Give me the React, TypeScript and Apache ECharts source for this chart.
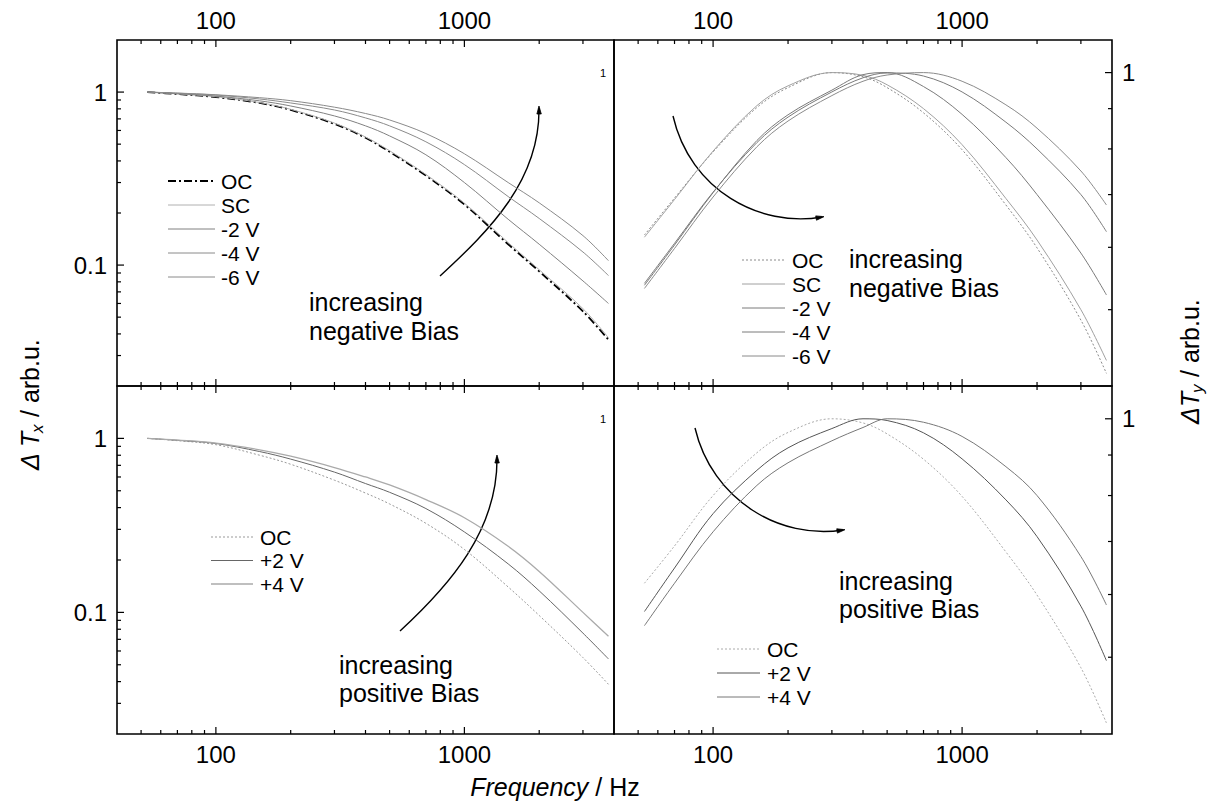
import React, { useEffect, useRef } from "react";
import * as echarts from "echarts";

const FONT = '"Liberation Sans", Arial, Helvetica, sans-serif';

// Sampling frequencies (Hz)
const FREQ = [53, 70, 100, 150, 200, 300, 400, 500, 700, 1000, 1500, 2000, 3000, 3800];

// ΔTx, negative bias
const TX_NEG_OC = [1.0, 0.974, 0.936, 0.865, 0.788, 0.655, 0.544, 0.452, 0.329, 0.224, 0.132, 0.092, 0.054, 0.037];
const TX_NEG_SC = [1.0, 0.976, 0.94, 0.87, 0.795, 0.662, 0.55, 0.458, 0.334, 0.228, 0.135, 0.094, 0.056, 0.038];
const TX_NEG_2V = [1.0, 0.978, 0.948, 0.89, 0.831, 0.728, 0.638, 0.558, 0.434, 0.3, 0.184, 0.132, 0.081, 0.06];
const TX_NEG_4V = [1.0, 0.985, 0.961, 0.912, 0.865, 0.788, 0.709, 0.638, 0.516, 0.381, 0.249, 0.186, 0.119, 0.087];
const TX_NEG_6V = [1.0, 0.987, 0.965, 0.928, 0.892, 0.818, 0.752, 0.69, 0.576, 0.44, 0.3, 0.229, 0.148, 0.106];

// ΔTy, negative bias
const TY_NEG_OC = [0.622, 0.693, 0.793, 0.903, 0.957, 1.0, 0.988, 0.957, 0.889, 0.798, 0.679, 0.599, 0.485, 0.415];
const TY_NEG_SC = [0.618, 0.69, 0.795, 0.908, 0.962, 1.0, 0.992, 0.965, 0.9, 0.81, 0.692, 0.613, 0.5, 0.431];
const TY_NEG_2V = [0.537, 0.604, 0.704, 0.82, 0.884, 0.95, 0.994, 1.0, 0.96, 0.885, 0.78, 0.7, 0.59, 0.522];
const TY_NEG_4V = [0.54, 0.607, 0.705, 0.815, 0.878, 0.945, 0.985, 0.999, 0.99, 0.945, 0.865, 0.8, 0.7, 0.628];
const TY_NEG_6V = [0.532, 0.598, 0.695, 0.805, 0.868, 0.935, 0.975, 0.993, 1.0, 0.975, 0.91, 0.85, 0.75, 0.679];

// ΔTx, positive bias
const TX_POS_OC = [1.0, 0.97, 0.92, 0.8, 0.71, 0.575, 0.485, 0.42, 0.325, 0.23, 0.14, 0.096, 0.055, 0.0386];
const TX_POS_2V = [1.0, 0.975, 0.935, 0.84, 0.76, 0.64, 0.55, 0.49, 0.395, 0.29, 0.19, 0.133, 0.076, 0.054];
const TX_POS_4V = [1.0, 0.978, 0.94, 0.86, 0.79, 0.68, 0.6, 0.54, 0.445, 0.35, 0.24, 0.172, 0.1, 0.073];

// ΔTy, positive bias
const TY_POS_OC = [0.62, 0.691, 0.8, 0.906, 0.961, 1.0, 0.988, 0.957, 0.889, 0.798, 0.679, 0.599, 0.485, 0.413];
const TY_POS_2V = [0.571, 0.648, 0.759, 0.861, 0.919, 0.972, 1.0, 0.995, 0.96, 0.89, 0.79, 0.71, 0.58, 0.495];
const TY_POS_4V = [0.548, 0.62, 0.72, 0.824, 0.88, 0.938, 0.975, 1.0, 0.99, 0.95, 0.87, 0.8, 0.67, 0.582];

// Axis ranges and tick values
const X_RANGE = [40, 4000];
const TX_RANGE = [0.02, 2];
const TY_RANGE = [0.4, 1.1];
const X_MAJOR = [100, 1000];
const X_MINOR = [50, 60, 70, 80, 90, 200, 300, 400, 500, 600, 700, 800, 900, 2000, 3000];
const TX_MAJOR = [0.1, 1];
const TX_MINOR = [0.03, 0.04, 0.05, 0.06, 0.07, 0.08, 0.09, 0.2, 0.3, 0.4, 0.5, 0.6, 0.7, 0.8, 0.9];
const TY_MAJOR = [1];
const TY_MINOR = [0.5, 0.6, 0.7, 0.8, 0.9];

const NEG_LEGEND = ["OC", "SC", "-2 V", "-4 V", "-6 V"];
const POS_LEGEND = ["OC", "+2 V", "+4 V"];

const GRIDS = [
  { left: 117, top: 40, width: 497, height: 346 },
  { left: 614, top: 40, width: 498, height: 346 },
  { left: 117, top: 386, width: 497, height: 348 },
  { left: 614, top: 386, width: 498, height: 348 },
];

type LS = { color: string; width: number; type: any };
const STYLE_TL: LS[] = [
  { color: "#000", width: 1.8, type: [8, 3, 2, 3] },
  { color: "#b0b0b0", width: 1, type: "solid" },
  { color: "#808080", width: 1, type: "solid" },
  { color: "#8a8a8a", width: 1, type: "solid" },
  { color: "#8a8a8a", width: 1, type: "solid" },
];
const STYLE_TR: LS[] = [
  { color: "#8a8a8a", width: 1, type: [2, 2] },
  { color: "#a0a0a0", width: 1, type: "solid" },
  { color: "#7a7a7a", width: 1, type: "solid" },
  { color: "#7a7a7a", width: 1, type: "solid" },
  { color: "#8a8a8a", width: 1, type: "solid" },
];
const STYLE_BL: LS[] = [
  { color: "#999", width: 1, type: [2, 2] },
  { color: "#666", width: 1, type: "solid" },
  { color: "#aaa", width: 1.3, type: "solid" },
];
const STYLE_BR: LS[] = [
  { color: "#aaa", width: 1, type: [2, 2] },
  { color: "#555", width: 1, type: "solid" },
  { color: "#777", width: 1, type: "solid" },
];

const decadeLabel = (v: number) => {
  const l = Math.log10(v);
  return Math.abs(l - Math.round(l)) < 1e-6 ? String(Number(v.toPrecision(6))) : "";
};

const lineSeries = (name: string, axis: number, yAxis: number, vals: number[], s: LS) => ({
  type: "line",
  name,
  xAxisIndex: axis,
  yAxisIndex: yAxis,
  data: FREQ.map((f, i) => [f, vals[i]]),
  showSymbol: false,
  smooth: 0.35,
  silent: true,
  lineStyle: { color: s.color, width: s.width, type: s.type },
});

const xAxis = (gridIndex: number, position: string) => ({
  type: "log",
  gridIndex,
  position,
  min: X_RANGE[0],
  max: X_RANGE[1],
  axisLine: { show: false },
  axisTick: { show: false },
  splitLine: { show: false },
  axisLabel: { formatter: decadeLabel, fontSize: 24, fontFamily: FONT, color: "#000", margin: 8 },
});

const yAxis = (gridIndex: number, position: string, range: number[], fontSize: number, margin: number) => ({
  type: "log",
  gridIndex,
  position,
  min: range[0],
  max: range[1],
  axisLine: { show: false },
  axisTick: { show: false },
  splitLine: { show: false },
  axisLabel: { formatter: decadeLabel, fontSize, fontFamily: FONT, color: "#000", margin },
});

function buildOption() {
  const series: any[] = [];
  [TX_NEG_OC, TX_NEG_SC, TX_NEG_2V, TX_NEG_4V, TX_NEG_6V].forEach((v, i) =>
    series.push(lineSeries("ΔTx " + NEG_LEGEND[i], 0, 0, v, STYLE_TL[i]))
  );
  [TY_NEG_OC, TY_NEG_SC, TY_NEG_2V, TY_NEG_4V, TY_NEG_6V].forEach((v, i) =>
    series.push(lineSeries("ΔTy " + NEG_LEGEND[i], 1, 1, v, STYLE_TR[i]))
  );
  [TX_POS_OC, TX_POS_2V, TX_POS_4V].forEach((v, i) =>
    series.push(lineSeries("ΔTx " + POS_LEGEND[i], 2, 2, v, STYLE_BL[i]))
  );
  [TY_POS_OC, TY_POS_2V, TY_POS_4V].forEach((v, i) =>
    series.push(lineSeries("ΔTy " + POS_LEGEND[i], 3, 3, v, STYLE_BR[i]))
  );
  return {
    animation: false,
    backgroundColor: "#fff",
    textStyle: { fontFamily: FONT },
    grid: GRIDS.map((g) => ({ ...g, show: true, borderColor: "#000", borderWidth: 1.6, containLabel: false })),
    xAxis: [xAxis(0, "top"), xAxis(1, "top"), xAxis(2, "bottom"), xAxis(3, "bottom")],
    yAxis: [
      yAxis(0, "left", TX_RANGE, 24, 10),
      yAxis(1, "left", TY_RANGE, 11, 8),
      yAxis(2, "left", TX_RANGE, 24, 10),
      yAxis(3, "left", TY_RANGE, 11, 8),
      yAxis(1, "right", TY_RANGE, 24, 10),
      yAxis(3, "right", TY_RANGE, 24, 10),
    ],
    series,
  };
}

function txt(text: string, x: number, y: number, size: number, extra: any = {}) {
  return {
    type: "text",
    x,
    y,
    silent: true,
    style: {
      text,
      fontSize: size,
      fontFamily: FONT,
      fill: "#000",
      align: "left",
      textAlign: "left",
      verticalAlign: "middle",
      textVerticalAlign: "middle",
      ...extra,
    },
  };
}

function legend(x0: number, x1: number, tx: number, y0: number, dy: number, labels: string[], styles: LS[]) {
  const out: any[] = [];
  labels.forEach((lab, i) => {
    const y = y0 + i * dy;
    const s = styles[i];
    out.push({
      type: "line",
      silent: true,
      shape: { x1: x0, y1: y, x2: x1, y2: y },
      style: { stroke: s.color, lineWidth: s.width, lineDash: Array.isArray(s.type) ? s.type : null },
    });
    out.push(txt(lab, tx, y, 21));
  });
  return out;
}

function arrow(p0: number[], c1: number[], c2: number[], p3: number[]) {
  const dx = p3[0] - c2[0];
  const dy = p3[1] - c2[1];
  const len = Math.hypot(dx, dy) || 1;
  const ux = dx / len, uy = dy / len;
  const nx = -uy, ny = ux;
  const tip = [p3[0] + ux * 2, p3[1] + uy * 2];
  const base = [p3[0] - ux * 6, p3[1] - uy * 6];
  return [
    {
      type: "bezierCurve",
      silent: true,
      shape: { x1: p0[0], y1: p0[1], cpx1: c1[0], cpy1: c1[1], cpx2: c2[0], cpy2: c2[1], x2: p3[0], y2: p3[1] },
      style: { stroke: "#000", lineWidth: 1.4, fill: null },
    },
    {
      type: "polygon",
      silent: true,
      shape: { points: [tip, [base[0] + nx * 2.2, base[1] + ny * 2.2], [base[0] - nx * 2.2, base[1] - ny * 2.2]] },
      style: { fill: "#000", stroke: "#000", lineWidth: 0.8 },
    },
  ];
}

function yTitle(x: number, y: number, sub: string, gap: number) {
  // rotated 90° counter-clockwise, reading bottom to top
  return {
    type: "group",
    x,
    y,
    rotation: Math.PI / 2,
    silent: true,
    children: [
      txt("Δ", 0, 0, 25, { fontStyle: "italic" }),
      txt("T", 17 + gap, 0, 25, { fontStyle: "italic" }),
      txt(sub, 31 + gap, 7, 17, { fontStyle: "italic" }),
      txt("/ arb.u.", 47 + gap, 0, 25),
    ],
  };
}

function buildGraphics(chart: any) {
  const g: any[] = [];
  const tick = (x1: number, y1: number, x2: number, y2: number) =>
    g.push({ type: "line", silent: true, shape: { x1, y1, x2, y2 }, style: { stroke: "#000", lineWidth: 1.2 } });

  GRIDS.forEach((gr, gi) => {
    const bottom = gr.top + gr.height;
    const put = (v: number, len: number) => {
      const px = chart.convertToPixel({ xAxisIndex: gi }, v);
      tick(px, gr.top, px, gr.top + len);
      tick(px, bottom, px, bottom - len);
    };
    X_MAJOR.forEach((v) => put(v, 7));
    X_MINOR.forEach((v) => put(v, 4));
  });
  [0, 2].forEach((gi) => {
    const gr = GRIDS[gi];
    const put = (v: number, len: number) => {
      const py = chart.convertToPixel({ yAxisIndex: gi }, v);
      tick(gr.left, py, gr.left + len, py);
    };
    TX_MAJOR.forEach((v) => put(v, 7));
    TX_MINOR.forEach((v) => put(v, 4));
  });
  [
    [1, 4],
    [3, 5],
  ].forEach(([gi, ai]) => {
    const gr = GRIDS[gi];
    const right = gr.left + gr.width;
    const put = (v: number, len: number) => {
      const py = chart.convertToPixel({ yAxisIndex: ai }, v);
      tick(right, py, right - len, py);
    };
    TY_MAJOR.forEach((v) => put(v, 7));
    TY_MINOR.forEach((v) => put(v, 4));
  });

  // legends
  g.push(...legend(168, 215, 221, 181, 24, NEG_LEGEND, STYLE_TL));
  g.push(...legend(742, 785, 792, 260, 24, NEG_LEGEND, STYLE_TR));
  g.push(...legend(211, 253, 260, 537, 23.5, POS_LEGEND, STYLE_BL));
  g.push(...legend(717, 760, 767, 649, 24, POS_LEGEND, STYLE_BR));

  // annotations
  g.push(txt("increasing", 309, 302, 25), txt("negative Bias", 309, 331, 25));
  g.push(txt("increasing", 849, 259, 25), txt("negative Bias", 849, 288, 25));
  g.push(txt("increasing", 339, 665, 25), txt("positive Bias", 339, 693, 25));
  g.push(txt("increasing", 839, 581, 25), txt("positive Bias", 839, 609, 25));

  g.push(...arrow([440, 276], [490, 230], [540, 180], [539, 108]));
  g.push(...arrow([400, 631], [450, 585], [498, 530], [497, 457]));
  g.push(...arrow([673, 116], [690, 190], [760, 228], [822, 217]));
  g.push(...arrow([695, 428], [712, 500], [780, 540], [843, 530]));

  // axis titles
  g.push(yTitle(30, 470, "x", 6));
  g.push(yTitle(1190, 424, "y", 0));
  g.push({
    type: "text",
    x: 555,
    y: 787,
    silent: true,
    style: {
      text: "{i|Frequency} / Hz",
      fontSize: 25,
      fontFamily: FONT,
      fill: "#000",
      align: "center",
      textAlign: "center",
      verticalAlign: "middle",
      textVerticalAlign: "middle",
      rich: { i: { fontStyle: "italic", fontSize: 25, fontFamily: FONT } },
    },
  });
  return g;
}

export default function App() {
  const ref = useRef<HTMLDivElement>(null);
  useEffect(() => {
    const el = ref.current;
    if (!el) return;
    const chart = echarts.init(el, undefined, { renderer: "svg" });
    chart.setOption(buildOption());
    chart.setOption({ graphic: buildGraphics(chart) });
    return () => chart.dispose();
  }, []);
  return (
    <div
      ref={ref}
      style={{ position: "fixed", left: 0, top: 0, width: 1214, height: 805, background: "#fff" }}
    />
  );
}
